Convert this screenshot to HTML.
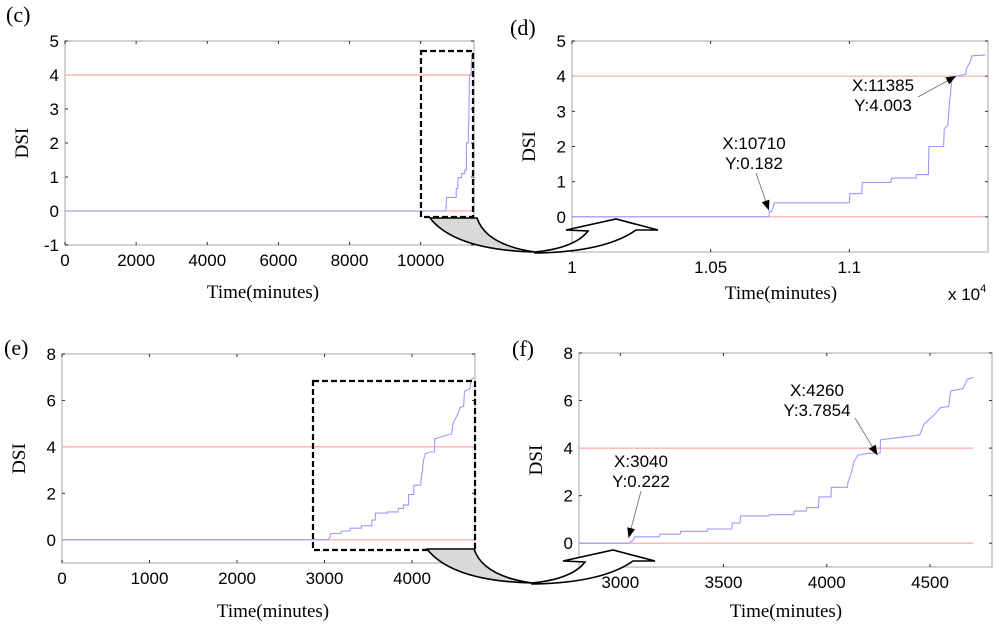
<!DOCTYPE html>
<html><head><meta charset="utf-8"><style>
body{margin:0;background:#fff;}
svg{display:block;}
.tk{font-family:"Liberation Sans",sans-serif;font-size:17px;fill:#000;}
.lb{font-family:"Liberation Serif",serif;font-size:19px;fill:#000;}
.pl{font-family:"Liberation Serif",serif;font-size:22px;fill:#000;}
.an{font-family:"Liberation Sans",sans-serif;font-size:17px;fill:#000;}
</style></head><body>
<svg id="fig" width="1000" height="626" viewBox="0 0 1000 626" xmlns="http://www.w3.org/2000/svg">
<text class="pl" x="6" y="22">(c)</text>
<text class="pl" x="510" y="35">(d)</text>
<text class="pl" x="4" y="355">(e)</text>
<text class="pl" x="512" y="356">(f)</text>
</svg>
<script>
// Series for the (c)/(d) dataset: step points [time, DSI]
const cdTimes = [0,10710,10712,10720,10722,10730,11000,11002,11045,11047,11150,11152,11240,11242,11285,11287,11340,11342,11355,11362,11370,11385,11420,11422,11438,11442,11490];
const cdValues = [0,0,0.15,0.15,0.2,0.4,0.4,0.66,0.66,0.98,0.98,1.1,1.1,1.2,1.2,2.0,2.0,2.5,2.6,3.3,3.9,4.003,4.05,4.2,4.45,4.58,4.6];
// Series for the (e)/(f) dataset
const efTimes = [0,3040,3060,3070,3190,3192,3290,3292,3420,3422,3540,3542,3580,3582,3720,3722,3840,3842,3900,3902,3960,3962,4020,4022,4100,4102,4120,4130,4150,4200,4258,4260,4350,4450,4470,4520,4550,4590,4600,4660,4680,4710];
const efValues = [0,0,0.1,0.27,0.27,0.38,0.38,0.5,0.5,0.6,0.6,0.85,0.85,1.15,1.15,1.2,1.2,1.35,1.35,1.5,1.5,1.95,1.95,2.35,2.35,2.55,3.0,3.4,3.7,3.78,3.7854,4.35,4.45,4.55,5.0,5.4,5.7,5.75,6.4,6.5,6.9,6.97];
// Tick labels
const cXTicks = [0,2000,4000,6000,8000,10000];
const cYTicks = [-1,0,1,2,3,4,5];
const dXTicks = [10000,10500,11000];
const dXLabels = ["1","1.05","1.1"];
const dYTicks = [0,1,2,3,4,5];
const eXTicks = [0,1000,2000,3000,4000];
const eYTicks = [0,2,4,6,8];
const fXTicks = [3000,3500,4000,4500];
const fYTicks = [0,2,4,6,8];
const threshold = [4,0];

const NS="http://www.w3.org/2000/svg";
const svg=document.getElementById('fig');
function mk(tag,attrs,parent){const e=document.createElementNS(NS,tag);for(const k in attrs)e.setAttribute(k,attrs[k]);(parent||svg).appendChild(e);return e;}

function panel(p){
  const g=mk('g',{});
  
  
  const sx=v=>p.L+(v-p.x0)/(p.x1-p.x0)*(p.R-p.L);
  const sy=v=>p.B-(v-p.y0)/(p.y1-p.y0)*(p.B-p.T);
  const box=mk('rect',{x:p.L,y:p.T,width:p.R-p.L,height:p.B-p.T,fill:'none',stroke:'#c4c4c4','stroke-width':1.5},g);
  
  
  p.xt.forEach((v,i)=>{
    const x=sx(v);
    mk('line',{x1:x,x2:x,y1:p.B,y2:p.B-3,stroke:'#333'},g);
    mk('line',{x1:x,x2:x,y1:p.T,y2:p.T+3,stroke:'#333'},g);
    const t=mk('text',{class:'tk',x:x,y:p.B+21,'text-anchor':'middle'},g);
    t.textContent=p.xl?p.xl[i]:String(v);
    
    
  });
  p.yt.forEach(v=>{
    const y=sy(v);
    mk('line',{x1:p.L,x2:p.L+3,y1:y,y2:y,stroke:'#333'},g);
    mk('line',{x1:p.R,x2:p.R-3,y1:y,y2:y,stroke:'#333'},g);
    const t=mk('text',{class:'tk',x:p.L-6,y:y+6,'text-anchor':'end'},g);
    t.textContent=String(v);
    
    
  });
  threshold.forEach(v=>{
    const l=mk('line',{x1:sx(p.x0),x2:sx(p.tEnd),y1:sy(v),y2:sy(v),stroke:'#ffa8a8','stroke-width':1.2},g);
    
    
  });
  let d='';
  p.xs.forEach((t,i)=>{const tt=Math.max(t,p.x0);d+=(i?'L':'M')+sx(tt).toFixed(1)+','+sy(p.ys[i]).toFixed(1);});
  const path=mk('path',{d:d,fill:'none',stroke:'#9a9aff','stroke-width':1.1},g);
  
  
  const yl=mk('text',{class:'lb',transform:`translate(${p.L-37},${(p.T+p.B)/2}) rotate(-90)`,'text-anchor':'middle'},g);
  yl.textContent='DSI';
  
  
  const xl=mk('text',{class:'lb','text-anchor':'middle',x:p.xtitleX,y:p.xtitleY},g);
  xl.textContent='Time(minutes)';
  
  
  return {sx,sy,g};
}

const c=panel({name:'panel-c',L:65,R:474,T:41,B:245,x0:0,x1:11500,y0:-1,y1:5,xt:cXTicks,yt:cYTicks,xs:cdTimes,ys:cdValues,tEnd:11490,xtitleX:263,xtitleY:298});
const d=panel({name:'panel-d',L:572,R:988,T:41,B:252,x0:10000,x1:11500,y0:-1,y1:5,xt:dXTicks,xl:dXLabels,yt:dYTicks,xs:cdTimes,ys:cdValues,tEnd:11490,xtitleX:781,xtitleY:299});
const e=panel({name:'panel-e',L:62,R:475,T:354,B:563,x0:0,x1:4720,y0:-1,y1:8,xt:eXTicks,yt:eYTicks,xs:efTimes,ys:efValues,tEnd:4710,xtitleX:273,xtitleY:617});
const f=panel({name:'panel-f',L:579,R:992,T:353,B:567,x0:2800,x1:4800,y0:-1,y1:8,xt:fXTicks,yt:fYTicks,xs:efTimes,ys:efValues,tEnd:4710,xtitleX:786,xtitleY:617});

// exponent label
const ex=mk('text',{class:'tk',x:948,y:300},svg);ex.innerHTML='x 10<tspan dy="-8" font-size="11">4</tspan>';



// dashed zoom boxes
[[421,51,473,217,'zoom-box-c'],[313,381,475,550,'zoom-box-e']].forEach(b=>{
  const r=mk('rect',{x:b[0],y:b[1],width:b[2]-b[0],height:b[3]-b[1],fill:'none',stroke:'#000','stroke-width':2.2,'stroke-dasharray':'6,3'});
  
  
});

// curved arrows
function arrow(dx,dy,name){
  const g=mk('g',{transform:`translate(${dx},${dy})`});
  
  
  mk('path',{d:'M430,218 L477,218 Q486,245 535,252 Q455,250 430,218 Z',fill:'#d9d9d9',stroke:'#000','stroke-width':1.6},g);
  mk('path',{d:'M535,252 Q575,248 588,231 L566,230 L616,219 L658,230 L636,230 Q605,252 535,253 Z',fill:'#fff',stroke:'#000','stroke-width':1.6},g);
}
arrow(0,0,'zoom-arrow-top');
arrow(-3,331,'zoom-arrow-bottom');

// annotations
function annot(lines,tx,ty,x1,y1,x2,y2,name){
  const g=mk('g',{});
  
  
  lines.forEach((s,i)=>{const t=mk('text',{class:'an',x:tx,y:ty+i*20,'text-anchor':'middle'},g);t.textContent=s;});
  mk('line',{x1:x1,y1:y1,x2:x2,y2:y2,stroke:'#666','stroke-width':0.8},g);
  const ang=Math.atan2(y2-y1,x2-x1),L=10,W=4;
  const bx=x2-L*Math.cos(ang),by=y2-L*Math.sin(ang);
  mk('path',{d:`M${x2},${y2} L${bx-W*Math.sin(ang)},${by+W*Math.cos(ang)} L${bx+W*Math.sin(ang)},${by-W*Math.cos(ang)} Z`,fill:'#000'},g);
}
annot(['X:10710','Y:0.182'],754,149,756,173,d.sx(10710),d.sy(0.182),'annotation-d-start');
annot(['X:11385','Y:4.003'],883,91,918,97,d.sx(11385),d.sy(4.003),'annotation-d-cross');
annot(['X:3040','Y:0.222'],641,467,641,491,f.sx(3040),f.sy(0.222),'annotation-f-start');
annot(['X:4260','Y:3.7854'],817,396,855,418,f.sx(4260)-3,f.sy(3.7854)+2,'annotation-f-cross');
</script>
</body></html>
